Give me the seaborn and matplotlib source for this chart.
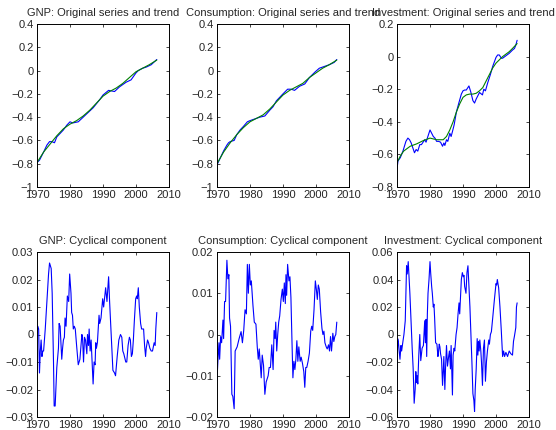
import numpy as np
import matplotlib
matplotlib.use("Agg")
import matplotlib.pyplot as plt
import seaborn as sns

# --- data (log levels, HP trend, cyclical part) ---
trend_year = [1970, 1972, 1974, 1976, 1978, 1980, 1982, 1984, 1986, 1988,
              1990, 1992, 1994, 1996, 1998, 2000, 2002, 2004, 2006.3]

gnp_year = [1970, 1970.75, 1972, 1973, 1973.8, 1974.5, 1975.3, 1976, 1977, 1978,
            1979, 1980, 1980.8, 1982.5, 1984, 1985.5, 1987, 1988, 1989, 1990,
            1991.7, 1993.5, 1995, 1997, 1998.5, 2000, 2000.7, 2002, 2003.1, 2004.6,
            2006.3]
gnp = [-0.79, -0.77, -0.70, -0.64, -0.61, -0.61, -0.62, -0.57, -0.54, -0.51,
       -0.47, -0.44, -0.45, -0.44, -0.40, -0.36, -0.32, -0.285, -0.25, -0.21,
       -0.17, -0.18, -0.14, -0.10, -0.08, -0.02, 0.00, 0.02, 0.03, 0.05,
       0.095]
gnp_trend = [-0.79, -0.70, -0.63, -0.56, -0.50, -0.46, -0.43, -0.39, -0.34, -0.28,
             -0.22, -0.18, -0.15, -0.11, -0.06, -0.01, 0.02, 0.05, 0.09]

cons_year = [1970, 1971, 1972, 1973, 1973.5, 1974, 1975.2, 1976, 1977, 1978,
             1979.2, 1980, 1981, 1982, 1983, 1984.5, 1986, 1987, 1988, 1989,
             1990, 1991.4, 1992.5, 1993.5, 1995, 1996.6, 1998, 1999.8, 2001, 2002.5,
             2004, 2005.5, 2006.3]
cons = [-0.81, -0.75, -0.69, -0.64, -0.62, -0.61, -0.60, -0.55, -0.51, -0.48,
        -0.44, -0.43, -0.42, -0.41, -0.40, -0.39, -0.34, -0.31, -0.26, -0.23,
        -0.20, -0.16, -0.16, -0.17, -0.135, -0.115, -0.06, -0.01, 0.02, 0.035,
        0.05, 0.07, 0.095]
cons_trend = [-0.80, -0.70, -0.62, -0.55, -0.49, -0.44, -0.41, -0.38, -0.33, -0.27,
              -0.21, -0.17, -0.14, -0.11, -0.06, -0.02, 0.02, 0.05, 0.09]

inv_year = [1970.0, 1970.3, 1971.0, 1971.8, 1972.7, 1973.3, 1973.8, 1974.3, 1975.3, 1975.8,
            1976.3, 1976.9, 1977.4, 1978.4, 1978.8, 1979.2, 1980.0, 1980.5, 1981.0, 1981.5,
            1982.0, 1982.6, 1983.2, 1983.8, 1984.2, 1984.5, 1985.0, 1985.4, 1986.0, 1986.4,
            1986.8, 1987.3, 1988.0, 1988.8, 1989.5, 1990.0, 1990.5, 1991.0, 1991.8, 1992.4,
            1993.0, 1993.5, 1994.0, 1994.5, 1995.0, 1995.9, 1996.3, 1996.8, 1997.5, 1998.3,
            1999.0, 2000.0, 2000.5, 2001.0, 2001.6, 2002.0, 2003.0, 2004.0, 2005.0, 2005.6,
            2006.0, 2006.4]
inv = [-0.69, -0.64, -0.62, -0.58, -0.52, -0.50, -0.51, -0.53, -0.59, -0.57,
       -0.58, -0.54, -0.54, -0.51, -0.525, -0.50, -0.45, -0.47, -0.49, -0.50,
       -0.52, -0.52, -0.525, -0.55, -0.53, -0.545, -0.51, -0.52, -0.47, -0.49,
       -0.46, -0.42, -0.34, -0.28, -0.23, -0.21, -0.205, -0.205, -0.18, -0.22,
       -0.27, -0.285, -0.26, -0.24, -0.22, -0.235, -0.20, -0.21, -0.16, -0.11,
       -0.06, -0.005, 0.01, 0.01, -0.01, -0.01, 0.005, 0.02, 0.04, 0.05,
       0.07, 0.10]
inv_trend_year = [1970, 1971, 1972, 1974, 1976, 1978, 1980, 1982, 1984, 1985,
                  1986, 1987, 1988, 1989, 1990, 1991, 1992, 1993, 1994, 1995,
                  1996, 1997, 1998, 1999, 2000, 2001, 2002, 2003, 2004, 2005,
                  2006.4]
inv_trend = [-0.65, -0.61, -0.58, -0.55, -0.535, -0.515, -0.50, -0.51, -0.51, -0.49,
             -0.45, -0.40, -0.34, -0.29, -0.25, -0.235, -0.23, -0.23, -0.225, -0.21,
             -0.19, -0.15, -0.11, -0.07, -0.04, -0.02, 0.0, 0.015, 0.03, 0.05,
             0.08]

gnp_cyc_year = [
    1970.0, 1970.25, 1970.5, 1970.75, 1971.0, 1971.25, 1971.5, 1971.75, 1972.0, 1972.5,
    1973.0, 1973.5, 1973.8, 1974.3, 1974.6, 1975.0, 1975.2, 1975.5, 1976.0, 1976.5,
    1976.7, 1977.0, 1977.5, 1977.75, 1978.0, 1978.3, 1978.5, 1978.8, 1979.2, 1979.6,
    1979.9, 1980.3, 1980.5, 1980.75, 1981.0, 1981.3, 1981.6, 1982.0, 1982.5, 1983.0,
    1983.6, 1983.8, 1984.1, 1984.4, 1984.7, 1985.1, 1985.3, 1985.6, 1985.8, 1986.1,
    1986.4, 1986.7, 1987.0, 1987.3, 1987.6, 1987.8, 1988.0, 1988.3, 1988.8, 1989.0,
    1989.4, 1989.9, 1990.2, 1990.8, 1991.2, 1991.7, 1992.0, 1992.4, 1993.0, 1993.5,
    1993.8, 1994.3, 1994.8, 1995.3, 1995.7, 1996.0, 1996.3, 1996.9, 1997.2, 1997.6,
    1998.0, 1998.3, 1998.6, 1998.9, 1999.2, 1999.5, 1999.9, 2000.2, 2000.4, 2000.7,
    2001.0, 2001.4, 2001.7, 2002.3, 2002.6, 2002.9, 2003.1, 2003.5, 2003.8, 2004.2,
    2004.6, 2005.0, 2005.5, 2005.8, 2006.0, 2006.3]
gnp_cyc = [
    0.000, 0.003, 0.002, -0.014, -0.006, -0.002, -0.008, -0.006, -0.006, 0.002,
    0.012, 0.022, 0.026, 0.024, 0.015, -0.010, -0.026, -0.026, -0.012, -0.005,
    0.004, 0.003, -0.009, -0.005, -0.002, -0.001, 0.006, 0.003, 0.014, 0.012,
    0.022, 0.015, 0.008, 0.007, 0.002, 0.003, 0.002, -0.004, -0.011, -0.009,
    0.000, -0.001, -0.010, -0.001, -0.002, -0.007, 0.000, -0.004, 0.002, -0.006,
    -0.002, -0.010, -0.018, -0.010, -0.011, -0.003, -0.005, -0.003, 0.007, 0.004,
    0.006, 0.013, 0.010, 0.017, 0.012, 0.021, 0.012, 0.002, -0.013, -0.014,
    -0.015, -0.008, -0.002, 0.000, -0.001, -0.006, -0.007, -0.010, -0.010, -0.004,
    -0.001, -0.002, -0.008, -0.007, -0.002, 0.005, 0.013, 0.014, 0.013, 0.017,
    0.010, 0.004, 0.002, 0.002, -0.004, -0.008, -0.005, -0.002, -0.003, -0.005,
    -0.006, -0.006, -0.003, -0.004, 0.002, 0.008]

cons_cyc_year = [
    1970.0, 1970.3, 1970.6, 1970.8, 1971.1, 1971.4, 1971.8, 1972.0, 1972.3, 1972.6,
    1973.0, 1973.3, 1973.6, 1973.8, 1974.1, 1974.5, 1974.8, 1975.2, 1975.5, 1976.1,
    1976.7, 1977.3, 1977.7, 1978.1, 1978.5, 1978.9, 1979.2, 1979.5, 1979.8, 1980.1,
    1980.4, 1980.9, 1981.3, 1981.8, 1982.2, 1982.5, 1982.8, 1983.1, 1983.4, 1983.7,
    1984.1, 1984.5, 1984.9, 1985.5, 1985.8, 1986.2, 1986.6, 1987.0, 1987.3, 1987.6,
    1987.8, 1988.1, 1988.4, 1988.7, 1989.0, 1989.4, 1989.8, 1990.1, 1990.4, 1990.7,
    1990.9, 1991.1, 1991.4, 1991.8, 1992.1, 1992.4, 1992.7, 1993.0, 1993.3, 1993.6,
    1993.9, 1994.2, 1994.5, 1994.8, 1995.2, 1995.5, 1995.9, 1996.3, 1996.6, 1996.9,
    1997.2, 1997.6, 1998.0, 1998.4, 1998.7, 1999.0, 1999.4, 1999.8, 2000.1, 2000.4,
    2000.7, 2001.0, 2001.4, 2001.8, 2002.1, 2002.4, 2002.7, 2003.1, 2003.4, 2003.8,
    2004.1, 2004.4, 2004.7, 2005.1, 2005.4, 2005.7, 2006.0, 2006.3]
cons_cyc = [
    -0.011, -0.006, -0.002, -0.006, -0.0005, -0.002, 0.0035, -0.001, 0.008, 0.008,
    0.018, 0.0135, 0.0145, 0.004, 0.002, -0.0145, -0.015, -0.018, -0.004, -0.003,
    -0.001, 0.0007, -0.002, 0.001, 0.006, 0.005, 0.017, 0.010, 0.017, 0.012,
    0.013, 0.007, 0.003, 0.0025, -0.003, -0.006, -0.0035, -0.007, -0.0105, -0.005,
    -0.0075, -0.0145, -0.0115, -0.010, -0.008, -0.008, -0.0025, -0.0085, 0.001, -0.001,
    0.003, -0.004, 0.0, 0.003, 0.0045, 0.0085, 0.011, 0.008, 0.0125, 0.0075,
    0.0145, 0.0095, 0.017, 0.013, 0.014, 0.009, -0.001, -0.0105, -0.0065, -0.0085,
    -0.006, -0.0015, -0.0065, -0.003, -0.0065, -0.0055, -0.007, -0.009, -0.0128, -0.008,
    -0.008, -0.0065, -0.0045, 0.0008, 0.002, 0.001, 0.006, 0.013, 0.011, 0.0085,
    0.012, 0.011, 0.0055, 0.0015, 0.0, 0.0008, -0.002, -0.003, -0.0035, -0.0025,
    -0.004, -0.0005, -0.004, 0.0003, -0.0017, -0.0005, 0.0, 0.003]

inv_cyc_year = [
    1970.0, 1970.2, 1970.4, 1970.9, 1971.2, 1971.4, 1971.8, 1972.1, 1972.5, 1972.7,
    1972.9, 1973.1, 1973.4, 1973.6, 1973.9, 1974.2, 1974.6, 1974.9, 1975.2, 1975.5,
    1975.7, 1975.9, 1976.1, 1976.3, 1976.6, 1976.9, 1977.2, 1977.6, 1978.0, 1978.4,
    1978.6, 1978.8, 1979.0, 1979.2, 1979.4, 1979.7, 1980.0, 1980.2, 1980.5, 1980.7,
    1981.0, 1981.2, 1981.4, 1981.7, 1982.1, 1982.4, 1982.6, 1982.8, 1983.0, 1983.2,
    1983.5, 1983.8, 1984.0, 1984.2, 1984.5, 1984.7, 1985.0, 1985.3, 1985.7, 1985.9,
    1986.2, 1986.4, 1986.8, 1987.0, 1987.3, 1987.5, 1987.9, 1988.2, 1988.5, 1988.8,
    1989.0, 1989.2, 1989.5, 1989.8, 1990.1, 1990.3, 1990.5, 1990.9, 1991.2, 1991.5,
    1991.8, 1992.1, 1992.4, 1992.7, 1993.0, 1993.3, 1993.5, 1993.7, 1994.0, 1994.3,
    1994.5, 1994.7, 1994.9, 1995.1, 1995.4, 1995.6, 1995.9, 1996.2, 1996.5, 1996.8,
    1997.1, 1997.4, 1997.8, 1998.0, 1998.3, 1998.6, 1999.0, 1999.5, 2000.0, 2000.2,
    2000.4, 2000.8, 2001.2, 2001.6, 2002.0, 2002.3, 2002.6, 2003.0, 2003.5, 2004.0,
    2004.5, 2005.0, 2005.3, 2005.6, 2006.0, 2006.2, 2006.4]
inv_cyc = [
    -0.044, -0.003, -0.005, -0.018, -0.008, -0.012, -0.005, 0.0, 0.010, 0.030,
    0.050, 0.044, 0.053, 0.044, 0.030, 0.013, -0.010, -0.025, -0.050, -0.040,
    -0.027, -0.035, -0.030, -0.036, -0.015, 0.0, -0.019, -0.010, -0.008, 0.010,
    -0.006, 0.011, -0.016, 0.015, 0.030, 0.040, 0.053, 0.045, 0.035, 0.030,
    0.020, 0.022, 0.012, -0.006, -0.007, -0.016, -0.012, -0.007, -0.009, -0.014,
    -0.018, -0.037, -0.027, -0.016, -0.040, -0.025, -0.008, -0.023, -0.015, -0.012,
    -0.025, -0.008, -0.044, -0.015, -0.010, -0.012, 0.0, 0.005, 0.015, 0.023,
    0.015, 0.025, 0.040, 0.045, 0.042, 0.043, 0.035, 0.030, 0.045, 0.050,
    0.035, 0.020, 0.0, -0.020, -0.043, -0.048, -0.056, -0.040, -0.025, -0.003,
    -0.015, -0.005, -0.012, -0.004, -0.012, -0.020, -0.037, -0.010, -0.004, -0.034,
    -0.020, -0.012, -0.004, -0.007, 0.0, 0.002, 0.012, 0.025, 0.037, 0.036,
    0.040, 0.034, 0.020, 0.003, -0.016, -0.012, -0.016, -0.013, -0.016, -0.012,
    -0.014, -0.015, -0.005, -0.001, 0.005, 0.020, 0.023]

titles_top = ["GNP: Original series and trend",
              "Consumption: Original series and trend",
              "Investment: Original series and trend"]
titles_bot = ["GNP: Cyclical component",
              "Consumption: Cyclical component",
              "Investment: Cyclical component"]

# --- style: MATLAB-like boxed axes ---
sns.set_style("ticks")
plt.rcParams["font.family"] = ["Liberation Sans", "DejaVu Sans"]
FS = 8
plt.rcParams.update({
    "font.size": FS,
    "axes.linewidth": 0.7,
    "xtick.direction": "in", "ytick.direction": "in",
    "xtick.top": True, "ytick.right": True,
    "xtick.major.size": 2.2, "ytick.major.size": 2.2,
    "xtick.major.width": 0.6, "ytick.major.width": 0.6,
    "xtick.major.pad": 2.2, "ytick.major.pad": 2.5,
    "xtick.labelsize": FS, "ytick.labelsize": FS,
    "axes.edgecolor": "black",
})

W, H = 556, 430
fig = plt.figure(figsize=(W / 100, H / 100), dpi=100)
lefts = [37, 217, 397]
aw = 132


def make_ax(left, top, bottom):
    return fig.add_axes([left / W, 1 - bottom / H, aw / W, (bottom - top) / H])


def fmt(v):
    v = round(float(v), 6) + 0.0
    if abs(v) < 1e-9:
        return "0"
    return ("%g" % v).replace("-", "\u2212")


def finish(ax, ylim, ystep, title):
    ax.set_xlim(1970, 2010)
    ax.set_xticks([1970, 1980, 1990, 2000, 2010])
    ax.set_xticklabels(["1970", "1980", "1990", "2000", "2010"])
    yt = np.arange(ylim[0], ylim[1] + ystep / 2, ystep)
    ax.set_ylim(*ylim)
    ax.set_yticks(yt)
    ax.set_yticklabels([fmt(v) for v in yt])
    ax.set_xlabel("")
    ax.set_ylabel("")
    ax.set_title(title, fontsize=FS, pad=5.5)
    for sp in ax.spines.values():
        sp.set_visible(True)


top_series = [(gnp_year, gnp, trend_year, gnp_trend, (-1, 0.4), 0.2),
              (cons_year, cons, trend_year, cons_trend, (-1, 0.4), 0.2),
              (inv_year, inv, inv_trend_year, inv_trend, (-0.8, 0.2), 0.2)]
bot_series = [(gnp_cyc_year, gnp_cyc, (-0.03, 0.03), 0.01),
              (cons_cyc_year, cons_cyc, (-0.02, 0.02), 0.01),
              (inv_cyc_year, inv_cyc, (-0.06, 0.06), 0.02)]

for i, (xo, yo, xt, yt_, ylim, step) in enumerate(top_series):
    ax = make_ax(lefts[i], 24, 187)
    sns.lineplot(x=xo, y=yo, ax=ax, color="#0000ff", lw=0.8, sort=False, estimator=None)
    sns.lineplot(x=xt, y=yt_, ax=ax, color="#008000", lw=0.8, sort=False, estimator=None)
    finish(ax, ylim, step, titles_top[i])

for i, (xc, yc, ylim, step) in enumerate(bot_series):
    ax = make_ax(lefts[i], 252, 417)
    sns.lineplot(x=xc, y=yc, ax=ax, color="#0000ff", lw=0.8, sort=False, estimator=None)
    finish(ax, ylim, step, titles_bot[i])

fig.savefig("out.png", dpi=100, facecolor="white")
